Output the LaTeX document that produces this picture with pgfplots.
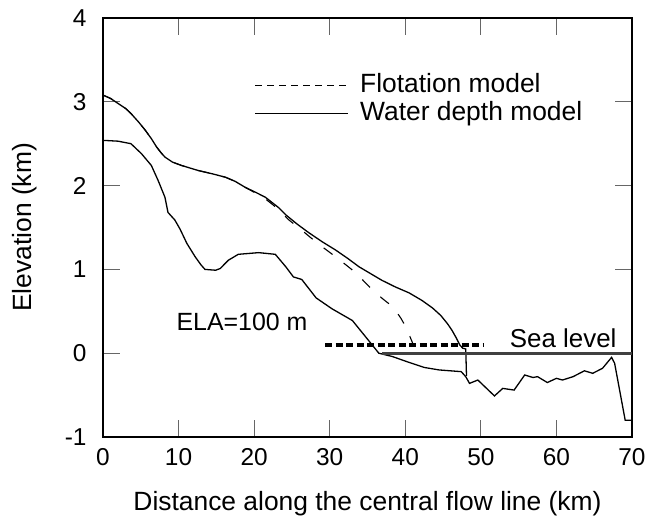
\documentclass[border=0pt]{standalone}
\usepackage{fontspec}
\setmainfont{Liberation Sans}
\usepackage{pgfplots}
\pgfplotsset{compat=1.18}
\begin{document}
\begin{tikzpicture}
\begin{axis}[
  name=ax,
  width=529bp, height=419bp, scale only axis,
  xmin=0, xmax=70, ymin=-1, ymax=4,
  xtick={0,10,...,70}, ytick={-1,0,...,4},
  tick align=inside, major tick length=17bp,
  tick style={draw=black!60, line width=0.9bp},
  axis line style={line width=1.8bp, black},
  /pgf/number format/assume math mode=true,
  tick label style={font=\fontsize{24.5}{28}\selectfont},
  yticklabel style={xshift=-13bp},
  xticklabel style={yshift=-8bp},
  xlabel={Distance along the central flow line (km)},
  ylabel={Elevation (km)},
  every axis x label/.style={at={(axis description cs:0.5,-0.1766)}, anchor=base, font=\fontsize{26.5}{30}\selectfont},
  every axis y label/.style={at={(axis description cs:-0.136,0.5)}, anchor=base, rotate=90, font=\fontsize{26.5}{30}\selectfont},
  legend style={draw=none, fill=none, at={(axis description cs:0.281,0.875)}, anchor=north west,
    font=\fontsize{26.5}{30}\selectfont, row sep=2bp, nodes={inner sep=1bp, text height=19bp, text depth=5bp}},
  legend cell align=left,
  legend image code/.code={\draw[#1] (0bp,0bp) -- (93bp,0bp); \path (103bp,0bp);},
]
% Flotation model (dashed)
\addplot[black, line width=1.1bp, dash pattern=on 11bp off 14bp,
  legend image code/.code={\draw[black, line width=1.1bp, dash pattern=on 7bp off 5bp] (0bp,0bp) -- (93bp,0bp); \path (103bp,0bp);}]
coordinates {
(0,3.08) (1,3.04) (2,2.98) (3,2.92) (3.7,2.86) (4.7,2.76) (5.6,2.66) (6.4,2.56) (7.1,2.46) (7.7,2.39) (8.2,2.34) (9.2,2.28) (10.4,2.24) (12.6,2.18) (14.5,2.14) (16.2,2.10) (17.5,2.05) (18.8,1.98) (20.2,1.91) (21.5,1.84) (22.5,1.77) (23.5,1.69) (24.6,1.59) (26,1.49) (27.2,1.40) (28.7,1.29) (30.2,1.19) (31.5,1.10) (32.9,1.00) (34.3,0.88) (35.7,0.75) (37,0.65) (38.4,0.55) (39.4,0.42) (40.1,0.31) (40.7,0.18) (41.2,0.07) (41.6,-0.02) (41.8,-0.06)
};
\addlegendentry{Flotation model}
% Water depth model (solid)
\addplot[black, line width=1.3bp] coordinates {
(0,3.08) (1,3.04) (2,2.98) (3,2.92) (3.7,2.86) (4.7,2.76) (5.6,2.66) (6.4,2.56) (7.1,2.46) (7.7,2.39) (8.2,2.34) (9.2,2.28) (10.4,2.24) (12.6,2.18) (14.5,2.14) (16.2,2.10) (17.5,2.05) (18.8,1.98) (20.2,1.92) (21.5,1.86) (23.2,1.74) (24.2,1.65) (25.7,1.54) (27.2,1.44) (29,1.33) (30.8,1.23) (32.4,1.13) (33.9,1.03) (35.4,0.95) (36.9,0.87) (38.7,0.79) (40.5,0.72) (42.2,0.63) (43.6,0.54) (44.7,0.45) (45.6,0.35) (46.2,0.27) (46.7,0.19) (47.2,0.10) (47.6,0.06) (48.0,0.05) (48.1,-0.27)
};
\addlegendentry{Water depth model}
% Bed
\addplot[black, line width=1.3bp, forget plot] coordinates {
(0,2.54) (2,2.53) (3.7,2.50) (5.1,2.38) (6.4,2.24) (7.3,2.06) (8.2,1.86) (8.6,1.68) (9.5,1.59) (10.2,1.48) (11.1,1.31) (12.2,1.15) (13.0,1.05) (13.5,1.00) (14.9,0.99) (15.5,1.01) (16.6,1.11) (17.9,1.18) (20.6,1.20) (22.8,1.18) (24.2,1.03) (25.2,0.91) (26.3,0.88) (28.2,0.66) (30.3,0.53) (33,0.39) (34.8,0.19) (36.5,0.0) (38.3,-0.04) (40.5,-0.11) (42.5,-0.17) (44.5,-0.20) (47.4,-0.22) (48.0,-0.28) (48.5,-0.36) (49.6,-0.32) (51.8,-0.51) (52.9,-0.42) (54.4,-0.44) (55.8,-0.26) (56.9,-0.29) (57.5,-0.28) (58.8,-0.35) (60.0,-0.30) (60.8,-0.32) (62.2,-0.28) (63.7,-0.21) (64.8,-0.24) (66.1,-0.18) (67.3,-0.05) (67.7,-0.12) (69.1,-0.80) (70,-0.80)
};
% ELA
\addplot[black, line width=3.5bp, dash pattern=on 7bp off 3.5bp, forget plot] coordinates {(29.4,0.1) (50.3,0.1)};
% Sea level
\addplot[black!75, line width=3.2bp, forget plot] coordinates {(36.9,0) (70,0)};
\node[font=\fontsize{25}{30}\selectfont, anchor=base] at (axis cs:18.4,0.274) {ELA=100 m};
\node[font=\fontsize{26}{30}\selectfont, anchor=base] at (axis cs:60.9,0.072) {Sea level};
\end{axis}
\pgfresetboundingbox
\path ([shift={(-103bp,-82bp)}]ax.south west) rectangle ++(648bp,519bp);
\end{tikzpicture}
\end{document}
